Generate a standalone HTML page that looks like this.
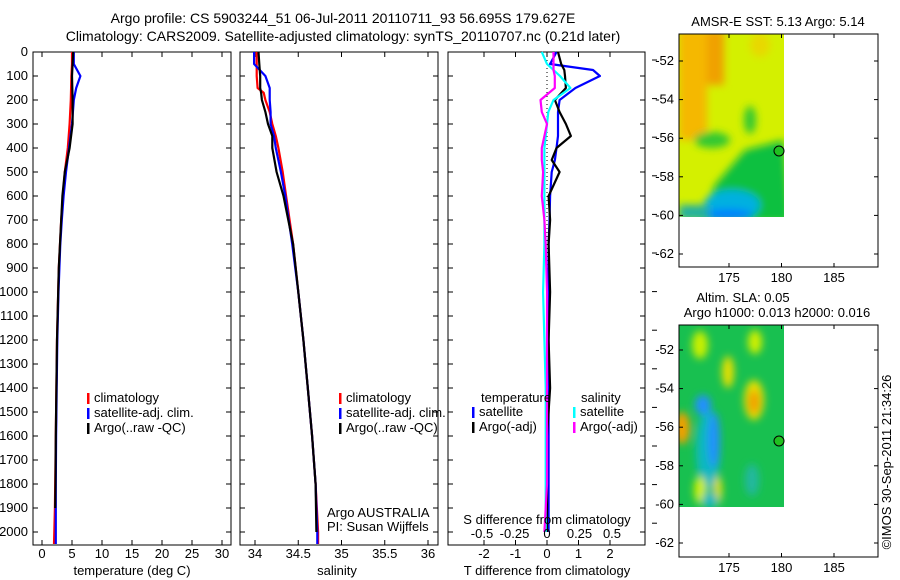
<!DOCTYPE html>
<html><head><meta charset="utf-8"><style>
body{margin:0;background:#fff;}
svg{display:block;font-family:"Liberation Sans",sans-serif;font-size:13px;}
</style></head><body>
<svg id="c" width="900" height="580" viewBox="0 0 900 580">
<defs>
<filter id="bl" x="-50%" y="-50%" width="200%" height="200%"><feGaussianBlur stdDeviation="4"/></filter>
<clipPath id="m1c"><rect x="679" y="34" width="105" height="183"/></clipPath>
<clipPath id="m2c"><rect x="679" y="325" width="105" height="182"/></clipPath>
</defs>
<text x="343" y="23" text-anchor="middle" style="font-size:14px">Argo profile: CS 5903244_51 06-Jul-2011 20110711_93 56.695S 179.627E</text>
<text x="343" y="41" text-anchor="middle" style="font-size:14px">Climatology: CARS2009. Satellite-adjusted climatology: synTS_20110707.nc (0.21d later)</text>
<g id="plots"></g>
<g>
<text x="778" y="26" text-anchor="middle">AMSR-E SST: 5.13 Argo: 5.14</text>
<g clip-path="url(#m1c)">
<rect x="679" y="34" width="105" height="183" fill="#d4f000"/>
<g filter="url(#bl)">
<rect x="679" y="30" width="45" height="55" fill="#f0a000"/>
<rect x="679" y="30" width="28" height="110" fill="#f5b800"/>
<ellipse cx="712" cy="140" rx="18" ry="8" fill="#30c830"/>
<ellipse cx="750" cy="120" rx="6" ry="14" fill="#30c830"/>
<ellipse cx="760" cy="45" rx="10" ry="12" fill="#e8d800"/>
<path d="M700 222 L715 185 L745 150 L784 140 L790 222 Z" fill="#10c040"/>
<ellipse cx="732" cy="205" rx="28" ry="15" fill="#00b0e0"/>
<ellipse cx="728" cy="215" rx="25" ry="6" fill="#0080ff"/>
<rect x="679" y="205" width="30" height="15" fill="#20b0a0"/>
</g>
</g>
<rect x="679" y="34" width="199" height="233" fill="none" stroke="#000"/>
<circle cx="779" cy="151" r="5" fill="#20c020" stroke="#000"/>
</g>
<g>
<text x="743" y="302" text-anchor="middle">Altim. SLA: 0.05</text>
<text x="777" y="317" text-anchor="middle">Argo h1000: 0.013 h2000: 0.016</text>
<g clip-path="url(#m2c)">
<rect x="679" y="325" width="105" height="182" fill="#18c050"/>
<g filter="url(#bl)">
<ellipse cx="708" cy="450" rx="12" ry="40" fill="#10b8c0"/>
<ellipse cx="714" cy="440" rx="6" ry="28" fill="#2090ff"/>
<ellipse cx="703" cy="405" rx="8" ry="10" fill="#2090ff"/>
<ellipse cx="700" cy="345" rx="8" ry="14" fill="#c8f000"/>
<ellipse cx="755" cy="342" rx="7" ry="12" fill="#d0f000"/>
<ellipse cx="728" cy="372" rx="6" ry="16" fill="#e8e000"/>
<ellipse cx="754" cy="400" rx="10" ry="20" fill="#e8e000"/>
<ellipse cx="754" cy="402" rx="6" ry="12" fill="#f0a000"/>
<ellipse cx="682" cy="428" rx="8" ry="16" fill="#f0a000"/>
<ellipse cx="700" cy="490" rx="6" ry="14" fill="#d0f000"/>
<ellipse cx="718" cy="490" rx="4" ry="14" fill="#e8e000"/>
<ellipse cx="752" cy="480" rx="7" ry="16" fill="#20b8a0"/>
<ellipse cx="710" cy="500" rx="8" ry="8" fill="#10b8c0"/>
</g>
</g>
<rect x="679" y="325" width="199" height="232" fill="none" stroke="#000"/>
<circle cx="779" cy="441" r="5" fill="#20c020" stroke="#000"/>
</g>
<text transform="translate(891,462) rotate(-90)" text-anchor="middle">©IMOS 30-Sep-2011 21:34:26</text>
</svg>
<script>
const tDepth = [0,50,100,150,200,300,400,500,600,700,800,900,1000,1200,1400,1600,1800,1900,2000,2050];
const tClim  = [5.0,5.0,4.9,4.85,4.8,4.6,4.3,3.8,3.5,3.2,3.0,2.8,2.7,2.5,2.4,2.3,2.2,2.15,2.05,2.0];
const tSat   = [5.3,5.3,6.4,5.7,5.3,5.0,4.5,4.0,3.6,3.3,3.05,2.9,2.75,2.55,2.45,2.35,2.3,2.3,2.3,2.3];
const tArgo  = [5.2,5.1,5.0,5.05,5.1,5.1,4.6,3.8,3.4,3.2,3.0,2.8,2.7,2.5,2.4,2.3,2.25,2.2,null,null];
const sDepth = [0,50,100,150,170,200,250,300,350,400,500,600,800,1000,1200,1400,1600,1800,2000,2050];
const sClim  = [34.02,34.02,34.02,34.03,34.1,34.12,34.17,34.2,34.24,34.27,34.32,34.36,34.44,34.5,34.56,34.61,34.66,34.7,34.73,34.73];
const sSat   = [33.99,33.99,34.12,34.17,34.17,34.17,34.18,34.18,34.22,34.24,34.3,34.35,34.43,34.5,34.56,34.61,34.66,34.7,34.72,34.72];
const sArgo  = [34.04,34.05,34.06,34.06,34.07,34.08,34.12,34.15,34.2,34.2,34.25,34.33,34.44,34.5,34.56,34.61,34.66,34.7,34.71,null];
const dDepth = [0,50,75,100,150,200,250,300,350,400,450,500,600,700,800,1000,1200,1400,1600,1800,2000];
const dTSat  = [0.3,0.1,1.46,1.68,0.9,0.4,0.35,0.35,0.35,0.3,0.25,0.15,0.1,0.08,0.05,0.05,0.05,0.05,0.05,0.05,0.05];
const dTArgo = [0.35,0.45,0.55,0.57,0.6,0.25,0.4,0.6,0.76,0.3,0.15,0.4,0.05,0.1,0.05,0.1,0.05,0.1,0.0,0.0,0.0];
const dSSat  = [-0.04,0.0,0.05,0.1,0.18,0.05,0.01,0.0,-0.01,-0.02,-0.02,-0.02,-0.02,-0.02,-0.02,-0.03,-0.02,-0.01,-0.01,-0.01,-0.01];
const dSArgo = [0.05,0.05,0.05,0.06,0.06,-0.05,-0.04,0.0,-0.02,-0.04,-0.04,-0.03,-0.04,-0.02,-0.01,0.0,0.0,0.0,0.0,0.0,-0.02];
const depthTicks = [0,100,200,300,400,500,600,700,800,900,1000,1100,1200,1300,1400,1500,1600,1700,1800,1900,2000];
const tTicks = [0,5,10,15,20,25,30];
const sTicks = [34,34.5,35,35.5,36];
const sTickLabels = ["34","34.5","35","35.5","36"];
const dtTicks = [-2,-1,0,1,2];
const dsTicks = [-0.5,-0.25,0,0.25,0.5];
const latTicks = [-52,-54,-56,-58,-60,-62];
const lonTicks = [175,180,185];

const NS='http://www.w3.org/2000/svg';
const svg=document.getElementById('c');
const g=document.getElementById('plots');
function el(tag,attrs,parent,txt){const e=document.createElementNS(NS,tag);for(const k in attrs)e.setAttribute(k,attrs[k]);if(txt!==undefined)e.textContent=txt;(parent||g).appendChild(e);return e;}
const Y=d=>52+d*0.24;
const xT=v=>42+v*6;
const xS=v=>255+(v-34)*86.5;
const xDT=v=>547+v*31.5;
const xDS=v=>547+v*130;

function stepPath(xs,ds,fx){let p='';let started=false;for(let i=0;i<ds.length;i++){if(xs[i]===null)continue;const x=fx(xs[i]).toFixed(1),y=Y(ds[i]).toFixed(1);if(!started){p+='M'+x+' '+y;started=true;}else p+='L'+x+' '+y;}return p;}
function series(xs,ds,fx,color,name){const p=el('path',{d:stepPath(xs,ds,fx),fill:'none',stroke:color,'stroke-width':2.2,'stroke-linejoin':'round'});

}

function frame(x0,x1,name){const r=el('rect',{x:x0,y:52,width:x1-x0,height:493,fill:'none',stroke:'#000'});


depthTicks.forEach(d=>{el('line',{x1:x0,x2:x0+5,y1:Y(d),y2:Y(d),stroke:'#000'});el('line',{x1:x1,x2:x1-5,y1:Y(d),y2:Y(d),stroke:'#000'});});}
function xaxis(ticks,fx,labels,y,name){ticks.forEach((t,i)=>{el('line',{x1:fx(t),x2:fx(t),y1:545,y2:540,stroke:'#000'});el('line',{x1:fx(t),x2:fx(t),y1:52,y2:57,stroke:'#000'});
const tx=el('text',{x:fx(t),y:y,'text-anchor':'middle'},g,labels?labels[i]:String(t));

});}

frame(33,231,'temperature-axes');
depthTicks.forEach(d=>{const t=el('text',{x:28,y:Y(d)+4,'text-anchor':'end'},g,String(d));

});
xaxis(tTicks,xT,null,558,'temperature-tick-label');
el('text',{x:132,y:575,'text-anchor':'middle',},g,'temperature (deg C)');
series(tClim,tDepth,xT,'#f00','temperature-climatology');
series(tSat,tDepth,xT,'#00f','temperature-satellite');
series(tArgo,tDepth,xT,'#000','temperature-argo');
function legend(x,y,items,pfx){items.forEach((it,i)=>{el('rect',{x:x,y:y+i*15-9,width:2.5,height:11,fill:it[0]});const t=el('text',{x:x+7,y:y+i*15},g,it[1]);

});}
legend(87,402,[['#f00','climatology'],['#00f','satellite-adj. clim.'],['#000','Argo(..raw -QC)']],'temperature');

frame(240,438,'salinity-axes');
xaxis(sTicks,xS,sTickLabels,558,'salinity-tick-label');
el('text',{x:337,y:575,'text-anchor':'middle',},g,'salinity');
series(sClim,sDepth,xS,'#f00','salinity-climatology');
series(sSat,sDepth,xS,'#00f','salinity-satellite');
series(sArgo,sDepth,xS,'#000','salinity-argo');
legend(339,402,[['#f00','climatology'],['#00f','satellite-adj. clim.'],['#000','Argo(..raw -QC)']],'salinity');
el('text',{x:327,y:517,},g,'Argo AUSTRALIA');
el('text',{x:327,y:531,},g,'PI: Susan Wijffels');

frame(448,645,'difference-axes');
xaxis(dtTicks,xDT,null,558,'t-diff-tick-label');
el('line',{x1:547,x2:547,y1:52,y2:300,stroke:'#000','stroke-dasharray':'1,3'});
series(dTSat,dDepth,xDT,'#00f','t-diff-satellite');
series(dTArgo,dDepth,xDT,'#000','t-diff-argo');
series(dSSat,dDepth,xDS,'#0ff','s-diff-satellite');
series(dSArgo,dDepth,xDS,'#f0f','s-diff-argo');
dsTicks.forEach(t=>{const tx=el('text',{x:xDS(t),y:538,'text-anchor':'middle'},g,String(t));

});
el('text',{x:547,y:524,'text-anchor':'middle',},g,'S difference from climatology');
el('text',{x:547,y:575,'text-anchor':'middle',},g,'T difference from climatology');
el('text',{x:481,y:402,},g,'temperature');
el('text',{x:581,y:402,},g,'salinity');
legend(472,416,[['#00f','satellite'],['#000','Argo(-adj)']],'t-diff');
legend(573,416,[['#0ff','satellite'],['#f0f','Argo(-adj)']],'s-diff');
for(let y=60;y<548;y+=38.6){el('line',{x1:652,x2:657,y1:y,y2:y,stroke:'#000'});}

function mapAxes(y0,lat52,bottom){
latTicks.forEach(l=>{const y=lat52+(-52-l)*19.3;el('line',{x1:679,x2:683,y1:y,y2:y,stroke:'#000'});el('line',{x1:878,x2:874,y1:y,y2:y,stroke:'#000'});
const t=el('text',{x:674,y:y+4,'text-anchor':'end'},g,String(l));

});
lonTicks.forEach(l=>{const x=729+(l-175)*10.5;el('line',{x1:x,x2:x,y1:y0,y2:y0+4,stroke:'#000'});el('line',{x1:x,x2:x,y1:bottom,y2:bottom-4,stroke:'#000'});
const t=el('text',{x:x,y:bottom+15,'text-anchor':'middle'},g,String(l));

});}
mapAxes(34,61,267);
mapAxes(325,350,557);
svg.appendChild(g);
</script>
</body></html>
